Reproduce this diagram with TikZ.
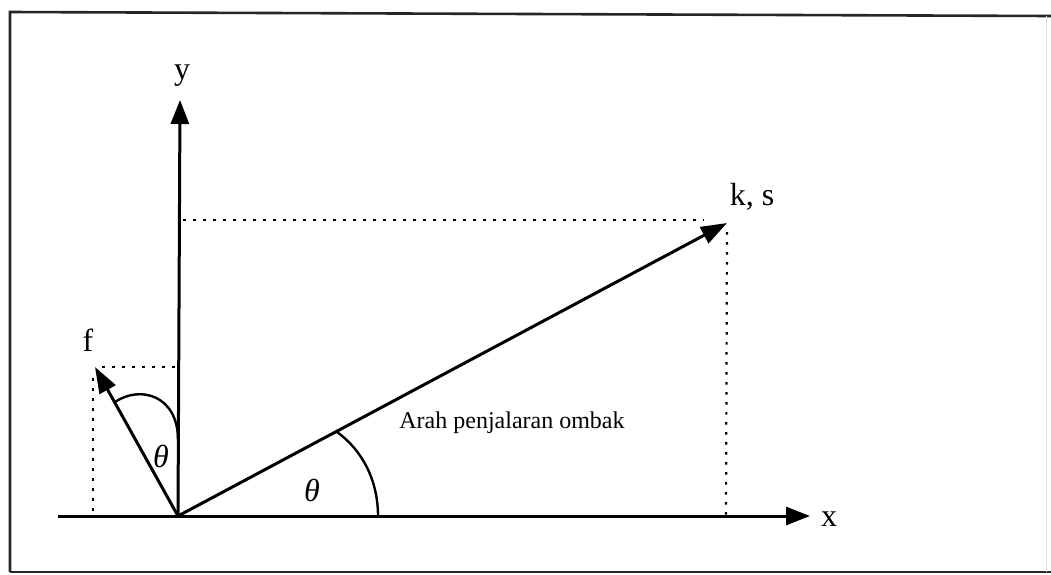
\documentclass[tikz,border=0pt]{standalone}
\usepackage{fontspec}
\setmainfont{Liberation Serif}
\usetikzlibrary{arrows.meta}
\begin{document}
\begin{tikzpicture}[x=1pt,y=-1pt,
  axis/.style={line width=3pt,-{Triangle[length=24pt,width=18pt]}},
  vec/.style={line width=3pt,-{Triangle[length=26pt,width=18pt]}},
  aux/.style={line width=2.2pt,dash pattern=on 2.5pt off 7.5pt},
  frame/.style={line width=2.6pt,black!85},
  arcline/.style={line width=2.4pt},
  biglab/.style={font=\fontsize{32}{36}\selectfont,inner sep=0pt},
  thetalab/.style={font=\fontsize{32}{36}\selectfont\itshape,inner sep=0pt},
  smalllab/.style={font=\fontsize{24}{28}\selectfont,inner sep=0pt}]
\useasboundingbox (0,0) rectangle (1051,574);
% frame
\draw[frame] (10,572) -- (10,12) -- (1051,16);
\draw[frame] (10,572) -- (1051,572);
\draw[line width=1pt,black!12] (1046,16) -- (1046,572);
% points
\coordinate (O) at (178,516);
\coordinate (xs) at (58,516);
\coordinate (xe) at (810,516);
\coordinate (ye) at (180,100);
\coordinate (K) at (727,223);
\coordinate (F) at (95,367);
\coordinate (kx) at (726,516);
\coordinate (ky) at (183,220);
\coordinate (fx) at (93,516);
\coordinate (fy) at (178,367);
% dotted projections
\draw[aux] (ky) -- (704,220);
\draw[aux] (727,232) -- (kx);
\draw[aux] (102,367) -- (fy);
\draw[aux] (93,378) -- (fx);
% axes
\draw[axis] (xs) -- (xe);
\draw[axis] (O) -- (ye);
% vectors
\draw[vec] (O) -- (K);
\draw[vec] (O) -- (F);
% angle arcs
\draw[arcline] (115,402) .. controls (140,385) and (178,395) .. (178,440);
\draw[arcline] (337,432) .. controls (362,450) and (378,480) .. (378,516);
% labels
\node[biglab] (ylab) at (182,76) {y};
\node[biglab] (xlab) at (829,519) {x};
\node[biglab] (klab) at (752,197) {k, s};
\node[biglab] (flab) at (88,340) {f};
\node[thetalab] (t1) at (161,456) {θ};
\node[thetalab] (t2) at (312,490) {θ};
\node[smalllab] (txt) at (512,423) {Arah penjalaran ombak};
\end{tikzpicture}
\end{document}
